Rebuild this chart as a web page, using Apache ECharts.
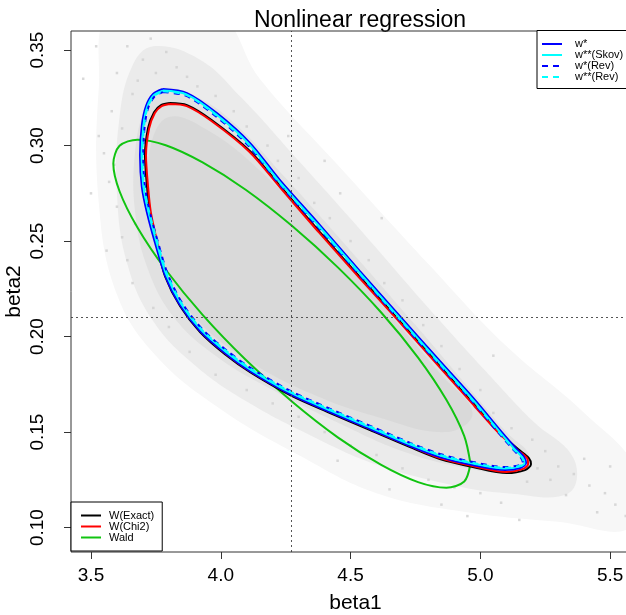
<!DOCTYPE html>
<html>
<head>
<meta charset="utf-8">
<title>Nonlinear regression</title>
<script src="https://cdn.jsdelivr.net/npm/echarts@6/dist/echarts.min.js"></script>
<style>
  html, body { margin: 0; padding: 0; background: #fff; }
  #chart { width: 626px; height: 615px; }
</style>
</head>
<body>
<div id="chart"></div>
<script>
// tick labels
var ticksBeta1 = [3.5, 4.0, 4.5, 5.0, 5.5];
var ticksBeta2 = [0.10, 0.15, 0.20, 0.25, 0.30, 0.35];

// point estimate (dotted cross)
var mleBeta1 = 4.272;
var mleBeta2 = 0.2118;

// confidence region contours
var wStar = [[3.777,0.3296],[3.870,0.3275],[3.985,0.317],[4.113,0.3013],[4.228,0.2819],[4.382,0.2584],[4.536,0.2343],[4.690,0.2107],[4.844,0.1872],[4.979,0.1668],[5.076,0.151],[5.133,0.1421],[5.168,0.1369],[5.176,0.1338],[5.153,0.1312],[5.095,0.1301],[4.971,0.1327],[4.844,0.1369],[4.729,0.1427],[4.575,0.1516],[4.421,0.1605],[4.267,0.1699],[4.113,0.1819],[4.016,0.1914],[3.920,0.2029],[3.843,0.2165],[3.785,0.2322],[3.747,0.249],[3.716,0.2647],[3.696,0.2783],[3.689,0.295],[3.696,0.3107],[3.712,0.3207],[3.739,0.327],[3.777,0.3296]];
var wStarStarSkov = [[3.777,0.3288],[3.868,0.3268],[3.982,0.3164],[4.109,0.3008],[4.224,0.2814],[4.378,0.2579],[4.532,0.2338],[4.686,0.2102],[4.840,0.1867],[4.975,0.1663],[5.072,0.1505],[5.128,0.1416],[5.162,0.1367],[5.170,0.1338],[5.150,0.1319],[5.095,0.1309],[4.972,0.1335],[4.845,0.1377],[4.731,0.1434],[4.577,0.1523],[4.423,0.1612],[4.269,0.1706],[4.116,0.1826],[4.020,0.1920],[3.924,0.2035],[3.848,0.2170],[3.790,0.2326],[3.753,0.2492],[3.722,0.2649],[3.702,0.2784],[3.695,0.295],[3.702,0.3105],[3.716,0.3201],[3.741,0.3263],[3.777,0.3288]];
var wStarRev = [[3.777,0.3280],[3.867,0.3260],[3.978,0.3157],[4.104,0.3003],[4.219,0.2809],[4.373,0.2574],[4.527,0.2333],[4.681,0.2097],[4.835,0.1862],[4.970,0.1658],[5.067,0.1500],[5.124,0.1412],[5.157,0.1364],[5.164,0.1338],[5.147,0.1325],[5.095,0.1317],[4.972,0.1343],[4.845,0.1385],[4.734,0.1441],[4.580,0.1530],[4.426,0.1619],[4.272,0.1713],[4.119,0.1832],[4.023,0.1927],[3.928,0.2040],[3.852,0.2174],[3.795,0.2330],[3.758,0.2495],[3.727,0.2650],[3.708,0.2785],[3.701,0.295],[3.707,0.3102],[3.720,0.3196],[3.744,0.3256],[3.777,0.3280]];
var wStarStarRev = [[3.777,0.3284],[3.868,0.3264],[3.980,0.3161],[4.107,0.3006],[4.222,0.2812],[4.376,0.2577],[4.530,0.2336],[4.684,0.2100],[4.838,0.1865],[4.973,0.1661],[5.070,0.1503],[5.126,0.1414],[5.160,0.1366],[5.167,0.1338],[5.149,0.1322],[5.095,0.1313],[4.972,0.1339],[4.845,0.1381],[4.733,0.1438],[4.579,0.1527],[4.425,0.1616],[4.271,0.1710],[4.118,0.1829],[4.022,0.1924],[3.926,0.2038],[3.850,0.2172],[3.793,0.2328],[3.756,0.2494],[3.725,0.2650],[3.705,0.2785],[3.698,0.295],[3.705,0.3104],[3.718,0.3199],[3.743,0.3260],[3.777,0.3284]];
var wExact = [[3.804,0.3223],[3.870,0.3212],[3.966,0.3133],[4.113,0.2971],[4.236,0.2777],[4.382,0.2547],[4.536,0.2312],[4.690,0.2081],[4.844,0.1846],[4.979,0.1641],[5.076,0.1495],[5.145,0.1411],[5.187,0.1364],[5.195,0.1332],[5.172,0.1301],[5.102,0.1285],[4.971,0.1317],[4.844,0.1359],[4.729,0.1421],[4.575,0.151],[4.421,0.16],[4.267,0.1694],[4.113,0.1814],[4.016,0.1908],[3.920,0.2024],[3.843,0.216],[3.785,0.2317],[3.754,0.2479],[3.727,0.2647],[3.716,0.2783],[3.708,0.295],[3.720,0.3092],[3.743,0.3175],[3.770,0.3212],[3.804,0.3223]];
var wChi2 = [[3.804,0.3218],[3.869,0.3207],[3.964,0.3129],[4.110,0.2968],[4.233,0.2774],[4.379,0.2544],[4.533,0.2309],[4.687,0.2078],[4.841,0.1843],[4.976,0.1638],[5.073,0.1492],[5.141,0.1408],[5.181,0.1362],[5.184,0.1333],[5.165,0.1307],[5.101,0.1291],[4.971,0.1322],[4.844,0.1364],[4.731,0.1426],[4.577,0.1515],[4.423,0.1605],[4.269,0.1699],[4.115,0.1818],[4.018,0.1912],[3.923,0.2028],[3.846,0.2163],[3.788,0.2319],[3.758,0.248],[3.731,0.2648],[3.720,0.2783],[3.712,0.295],[3.724,0.3090],[3.746,0.3171],[3.772,0.3207],[3.804,0.3218]];
var wald = [[4.962,0.1334],[4.938,0.1241],[4.869,0.1209],[4.760,0.1238],[4.618,0.1328],[4.452,0.1471],[4.274,0.166],[4.096,0.1879],[3.930,0.2114],[3.788,0.235],[3.679,0.2571],[3.610,0.2761],[3.586,0.2906],[3.610,0.2999],[3.679,0.3031],[3.788,0.3002],[3.930,0.2912],[4.096,0.2769],[4.274,0.258],[4.452,0.2361],[4.618,0.2126],[4.760,0.189],[4.869,0.1669],[4.938,0.1479],[4.962,0.1334]];

// simulated cloud, drawn as density bands (outer -> core)
var cloudOuter = [[3.58,0.37],[3.98,0.37],[4.15,0.335],[4.45,0.29],[4.80,0.238],[5.10,0.195],[5.40,0.16],[5.60,0.13],[5.58,0.10],[5.30,0.103],[4.95,0.108],[4.60,0.118],[4.30,0.138],[4.00,0.162],[3.75,0.19],[3.60,0.222],[3.53,0.27],[3.53,0.33]];
var cloudHalo = [[3.74,0.352],[3.92,0.345],[4.08,0.325],[4.30,0.292],[4.55,0.254],[4.80,0.215],[5.02,0.182],[5.20,0.156],[5.36,0.136],[5.34,0.118],[5.10,0.118],[4.90,0.122],[4.60,0.133],[4.35,0.148],[4.10,0.166],[3.90,0.185],[3.74,0.208],[3.64,0.238],[3.60,0.275],[3.61,0.315],[3.66,0.342]];
var cloudMain = [[3.77,0.33],[3.90,0.326],[4.05,0.312],[4.25,0.283],[4.50,0.245],[4.75,0.206],[4.95,0.174],[5.10,0.150],[5.19,0.137],[5.12,0.129],[4.95,0.131],[4.70,0.140],[4.45,0.155],[4.20,0.172],[3.98,0.19],[3.82,0.21],[3.72,0.235],[3.67,0.265],[3.67,0.297],[3.71,0.32]];
var cloudCore = [[3.80,0.315],[3.95,0.308],[4.15,0.287],[4.40,0.252],[4.65,0.212],[4.85,0.18],[4.97,0.16],[4.87,0.150],[4.60,0.158],[4.35,0.170],[4.10,0.188],[3.90,0.21],[3.77,0.238],[3.72,0.27],[3.73,0.30]];
var cloudOutliers = [[3.60,0.338],[3.64,0.352],[3.66,0.327],[3.70,0.345],[3.73,0.356],[3.75,0.338],[3.79,0.349],[3.83,0.341],[3.58,0.318],[3.62,0.309],[3.87,0.336],[3.68,0.334],[3.91,0.331],[3.47,0.335],[3.52,0.352],
  [3.55,0.296],[3.57,0.281],[3.60,0.268],[3.62,0.252],[3.64,0.240],[3.59,0.290],[3.66,0.228],[3.53,0.305],[3.67,0.259],[3.50,0.275],[3.56,0.245],
  [3.98,0.326],[4.05,0.318],[4.10,0.310],[4.18,0.300],[4.22,0.292],[4.30,0.283],[4.36,0.270],[4.42,0.262],[4.50,0.250],[4.57,0.240],[4.63,0.228],[4.70,0.219],[4.26,0.305],[4.46,0.275],[4.78,0.206],[4.85,0.195],[4.92,0.183],[5.00,0.172],[4.40,0.292],[4.62,0.262],[5.05,0.19],
  [5.05,0.160],[5.12,0.152],[5.20,0.146],[5.25,0.140],[5.30,0.132],[5.36,0.128],[5.42,0.122],[5.48,0.118],[5.52,0.112],[5.27,0.125],[5.33,0.117],[5.22,0.131],[5.40,0.136],[5.56,0.106],[5.45,0.108],[5.18,0.124],[5.50,0.132],[5.58,0.120],
  [4.30,0.158],[4.40,0.150],[4.50,0.143],[4.60,0.138],[4.70,0.131],[4.80,0.125],[4.90,0.121],[5.00,0.118],[5.08,0.113],[4.65,0.120],[4.85,0.112],[4.45,0.135],[4.20,0.165],[4.10,0.172],[3.98,0.180],[3.88,0.192],[3.80,0.205],[3.74,0.215],[4.95,0.106],[5.15,0.104]];

var cloudLayers = [cloudOuter, cloudHalo, cloudMain, cloudCore];
var cloudFills = ['#f7f7f7', '#ebebeb', '#e1e1e1', '#d9d9d9'];

var font = '"Liberation Sans", Arial, Helvetica, sans-serif';
var chart = echarts.init(document.getElementById('chart'), null, { renderer: 'canvas' });

function contour(name, data, color, dashed) {
  return {
    name: name,
    type: 'line',
    data: data,
    showSymbol: false,
    symbol: 'none',
    smooth: 0.3,
    z: 4,
    lineStyle: { color: color, width: 2, type: dashed ? [6, 5] : 'solid' },
    itemStyle: { color: color },
    emphasis: { disabled: true }
  };
}

var legendBase = {
  orient: 'vertical',
  itemWidth: 20,
  itemGap: 0,
  borderColor: '#000', borderWidth: 1, backgroundColor: '#fff', borderRadius: 0,
  itemStyle: { opacity: 0 },
  z: 20
};

var option = {
  animation: false,
  backgroundColor: '#fff',
  title: {
    text: 'Nonlinear regression',
    left: 355,
    top: 4,
    textAlign: 'center',
    textStyle: { fontFamily: font, fontSize: 23, fontWeight: 'normal', color: '#000' }
  },
  grid: {
    left: 71, top: 31, width: 569, height: 521,
    outerBoundsMode: 'none',
    containLabel: false,
    show: true, borderColor: '#333', borderWidth: 1, backgroundColor: 'transparent', z: 10
  },
  legend: [Object.assign({}, legendBase, {
    left: 537, top: 30.5,
    padding: [8, 20, 6, 4], itemHeight: 11,
    textStyle: { fontFamily: font, fontSize: 11, color: '#000', padding: [0, 0, 0, 8] },
    data: ['w*', 'w**(Skov)', 'w*(Rev)', 'w**(Rev)']
  }), Object.assign({}, legendBase, {
    left: 71, top: 502,
    padding: [8, 8, 8, 9], itemHeight: 11.5,
    textStyle: { fontFamily: font, fontSize: 11, color: '#000', padding: [0, 0, 0, 3] },
    data: ['W(Exact)', 'W(Chi2)', 'Wald']
  })],
  xAxis: {
    type: 'value', min: 3.423, max: 5.615,
    name: 'beta1', nameLocation: 'middle', nameGap: 41, nameMoveOverlap: false,
    nameTextStyle: { fontFamily: font, fontSize: 21, color: '#000' },
    axisLine: { show: false },
    splitLine: { show: false },
    axisTick: { show: true, customValues: ticksBeta1, length: 7, lineStyle: { color: '#333' } },
    axisLabel: {
      customValues: ticksBeta1, margin: 14,
      fontFamily: font, fontSize: 19, color: '#000',
      formatter: function (v) { return v.toFixed(1); }
    }
  },
  yAxis: {
    type: 'value', min: 0.0872, max: 0.36,
    name: 'beta2', nameLocation: 'middle', nameGap: 46, nameRotate: 90, nameMoveOverlap: false,
    nameTextStyle: { fontFamily: font, fontSize: 21, color: '#000' },
    axisLine: { show: false },
    splitLine: { show: false },
    axisTick: { show: true, customValues: ticksBeta2, length: 7, lineStyle: { color: '#333' } },
    axisLabel: {
      customValues: ticksBeta2, margin: 24, rotate: 90,
      fontFamily: font, fontSize: 19, color: '#000',
      formatter: function (v) { return v.toFixed(2); }
    }
  },
  series: [{
    name: 'cloud',
    type: 'custom',
    z: 1,
    silent: true,
    data: cloudLayers.map(function (pts) { return pts[0]; }),
    renderItem: function (params, api) {
      var pts = cloudLayers[params.dataIndex].map(function (p) { return api.coord(p); });
      var cs = params.coordSys;
      return {
        type: 'polygon',
        shape: { points: pts, smooth: 0.4 },
        style: { fill: cloudFills[params.dataIndex], stroke: null },
        clipPath: { type: 'rect', shape: { x: cs.x, y: cs.y, width: cs.width, height: cs.height } }
      };
    }
  }, {
    name: 'points',
    type: 'scatter',
    z: 2,
    silent: true,
    symbol: 'rect',
    symbolSize: 2.5,
    itemStyle: { color: '#cfcfcf' },
    data: cloudOutliers,
    markLine: {
      silent: true,
      symbol: 'none',
      label: { show: false },
      lineStyle: { color: '#555', type: [2, 3], width: 1 },
      data: [{ xAxis: mleBeta1 }, { yAxis: mleBeta2 }]
    }
  },
    contour('Wald', wald, '#11c411', false),
    contour('W(Exact)', wExact, '#000000', false),
    contour('W(Chi2)', wChi2, '#ff0000', false),
    contour('w*', wStar, '#0000ff', false),
    contour('w**(Skov)', wStarStarSkov, '#00ffff', false),
    contour('w*(Rev)', wStarRev, '#0000ff', true),
    contour('w**(Rev)', wStarStarRev, '#00ffff', true)
  ]
};

chart.setOption(option);
</script>
</body>
</html>
